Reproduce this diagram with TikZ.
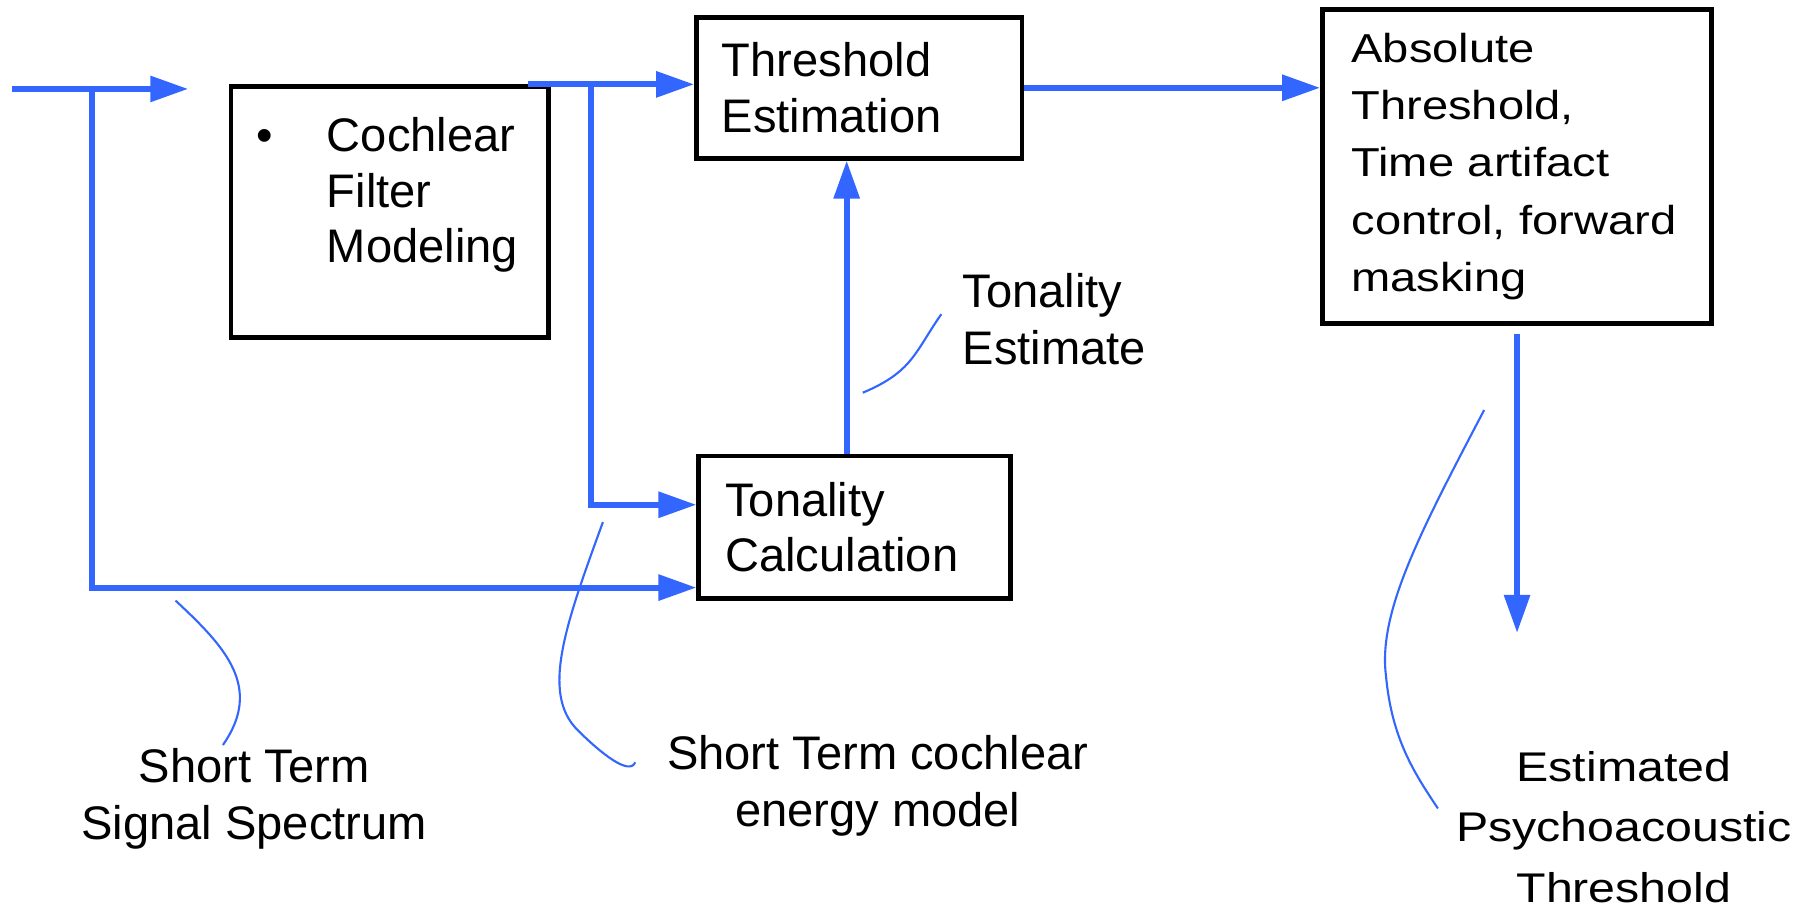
\documentclass[tikz,border=0pt]{standalone}
\usepackage{fontspec}
\setmainfont{Liberation Sans}
\newfontfamily\widefont[FakeStretch=1.165]{Liberation Sans}
\usepackage{xcolor}
\usetikzlibrary{positioning, arrows.meta}
\definecolor{flowblue}{RGB}{51,102,255}

\begin{document}
\begin{tikzpicture}[x=0.01155cm, y=-0.01155cm,
	box/.style={draw, rectangle, line width=1.3pt, align=left, inner ysep=0pt, font=\fontsize{13.4}{15.8}\selectfont},
	flow/.style={draw=flowblue, line width=1.7pt, -{Triangle[length=0.38cm, width=0.25cm]}},
	note/.style={draw=flowblue, line width=0.6pt},
	lbl/.style={align=center, inner sep=0pt, font=\fontsize{13.4}{16.2}\selectfont}]
		\useasboundingbox (0,0) rectangle (1568,783);
		\node[box, minimum width=3.176cm, minimum height=2.506cm, inner xsep=0.254cm, text width=2.668cm] (cfm) at (337.5,183.5)
			{\begin{tabular}{@{}l@{\hspace{0.54cm}}l@{}}\textbullet & Cochlear\\ & Filter\\ & Modeling\\[0.32cm]\end{tabular}};
		\node[box, minimum width=3.257cm, minimum height=1.409cm, inner xsep=0.254cm, text width=2.749cm] (te) at (744,76) {Threshold\\Estimation};
		\node[box, minimum width=3.119cm, minimum height=1.421cm, inner xsep=0.266cm, text width=2.587cm] (tc) at (740,456.5) {Tonality\\Calculation};
		\node[box, minimum width=3.892cm, minimum height=3.142cm, inner xsep=0.29cm, text width=3.312cm, font=\widefont\fontsize{11.5}{16.3}\selectfont] (at) at (1313.5,144)
			{Absolute\\Threshold,\\Time artifact\\control, forward\\masking};
		
		\coordinate (in) at (10,77);
		\coordinate (inend) at (163,77);
		\coordinate (tap) at (80,77);
		\coordinate (out) at ([xshift=-0.23cm]cfm.north east);
		\coordinate (tap2) at (512,75);
		\coordinate (est) at (1313.5,548);
		
		\draw[flow] (in) -- (inend);
		\draw[flow] (tap) |- ([yshift=0.13cm]tc.south west);
		\draw[flow] (out) -- (te.west |- out);
		\draw[flow] (tap2) |- ([yshift=0.225cm]tc.west);
		\draw[flow] ([xshift=-0.08cm]tc.north) -- ([xshift=-0.08cm]tc.north |- te.south);
		\draw[flow] (te.east) -- (te.east -| at.west);
		\draw[flow] ([yshift=-0.08cm]at.south) -- (est);
		
		\node[lbl] (sss) at (220,692) {Short Term\\Signal Spectrum};
		\node[lbl] (stc) at (760,680) {Short Term cochlear\\energy model};
		\node[lbl, align=left, anchor=west] (tone) at (833,276) {Tonality\\Estimate};
		\node[lbl, font=\widefont\fontsize{11.8}{17.3}\selectfont] (ept) at (1406,716) {Estimated\\Psychoacoustic\\Threshold};
		
		\draw[note] (152,520) .. controls (195,560) and (228,595) .. (193,645);
		\draw[note] (522,452) .. controls (490,540) and (468,600) .. (500,632) .. controls (520,652) and (545,672) .. (550,660);
		\draw[note] (815,272) .. controls (792,305) and (790,322) .. (747,340);
		\draw[note] (1285,355) .. controls (1230,460) and (1193,530) .. (1200,585) .. controls (1205,640) and (1225,670) .. (1245,700);
	\end{tikzpicture}
\end{document}
